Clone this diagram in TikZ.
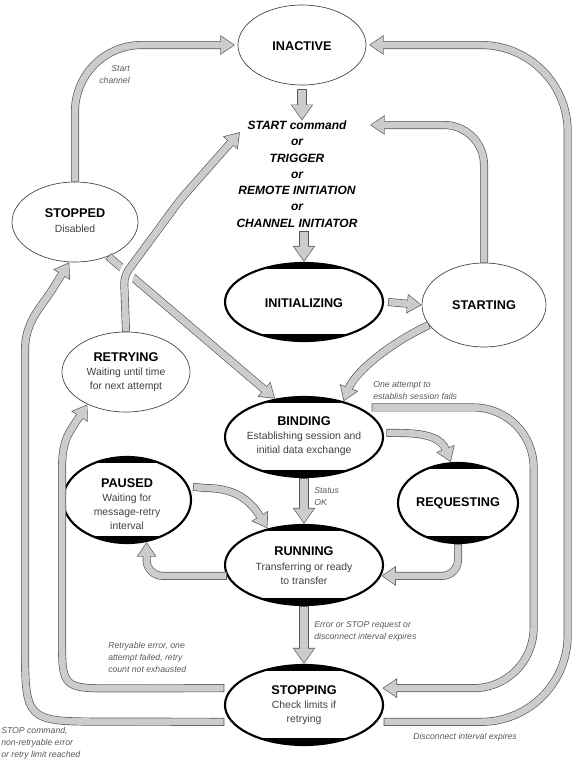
\documentclass[tikz,border=0pt]{standalone}
\usepackage{fontspec}
\setmainfont{Liberation Sans}
\usepackage{tikz}
\usetikzlibrary{arrows.meta, positioning, shapes.geometric, calc}

\begin{document}
\begin{tikzpicture}[
        x=0.75pt, y=-0.75pt,
        thinstate/.style={draw=black!75, line width=0.5pt, ellipse, inner sep=0pt},
        boldstate/.style={draw, ellipse, inner sep=0pt, line width=1.6pt,
            path picture={
                \fill (path picture bounding box.north west) rectangle ([yshift=-4.5pt]path picture bounding box.north east);
                \fill (path picture bounding box.south west) rectangle ([yshift=5pt]path picture bounding box.south east);}},
        title/.style={font=\fontsize{9.5}{11}\selectfont\bfseries, inner sep=0pt},
        desc/.style={font=\fontsize{7.8}{10.5}\selectfont, text=black!75, align=center, inner sep=0pt},
        note/.style={font=\fontsize{6.5}{9}\selectfont\itshape, text=black!65, inner sep=0pt},
        cmd/.style={font=\fontsize{9}{12.2}\selectfont\bfseries\itshape, align=center, inner sep=0pt},
        flow/.style={draw=black!65, line width=6pt, line join=round,
            -{Triangle[length=11pt, width=14pt]},
            postaction={draw=gray!40, line width=5pt, shorten <=0.5pt, shorten >=0.93pt,
                -{Triangle[length=9.57pt, width=12.2pt]}}},
        bigflow/.style={draw=black!65, line width=7pt, line join=round,
            -{Triangle[length=12pt, width=16pt]},
            postaction={draw=gray!40, line width=6pt, shorten <=0.5pt, shorten >=0.9pt,
                -{Triangle[length=10.6pt, width=14.1pt]}}},
        over/.style={preaction={draw=white, line width=11pt, shorten <=8pt, shorten >=30pt, -}}
    ]
    \useasboundingbox (0,0) rectangle (577,760);

    % ---- States ----
    \node[thinstate, minimum width=96pt, minimum height=60pt] (inactive) at (302,45) {};
    \node[title] (inactive-t) at (302,46) {INACTIVE};

    \node[thinstate, minimum width=94.5pt, minimum height=60pt] (stopped) at (75,222) {};
    \node[title] (stopped-t) at (75,213) {STOPPED};
    \node[desc] (stopped-d) at (75,229) {Disabled};

    \node[thinstate, minimum width=96pt, minimum height=60pt] (retrying) at (126,372) {};
    \node[title] (retrying-t) at (126,357) {RETRYING};
    \node[desc] (retrying-d) at (126,380) {Waiting until time\\for next attempt};

    \node[boldstate, minimum width=118.5pt, minimum height=58.5pt] (initializing) at (304,302) {};
    \node[title] (initializing-t) at (304,303) {INITIALIZING};

    \node[thinstate, minimum width=93pt, minimum height=63pt] (starting) at (484,305) {};
    \node[title] (starting-t) at (484,305) {STARTING};

    \node[boldstate, minimum width=118.5pt, minimum height=60pt] (binding) at (304,437) {};
    \node[title] (binding-t) at (304,421) {BINDING};
    \node[desc] (binding-d) at (304,444) {Establishing session and\\initial data exchange};

    \node[boldstate, minimum width=96pt, minimum height=64.5pt] (paused) at (127,500) {};
    \node[title] (paused-t) at (127,483) {PAUSED};
    \node[desc] (paused-d) at (127,512) {Waiting for\\message-retry\\interval};

    \node[boldstate, minimum width=90pt, minimum height=60pt] (requesting) at (458,503) {};
    \node[title] (requesting-t) at (458,503) {REQUESTING};

    \node[boldstate, minimum width=118.5pt, minimum height=60pt] (running) at (304,565) {};
    \node[title] (running-t) at (304,551) {RUNNING};
    \node[desc] (running-d) at (304,574) {Transferring or ready\\to transfer};

    \node[boldstate, minimum width=118.5pt, minimum height=60pt] (stopping) at (304,705) {};
    \node[title] (stopping-t) at (304,690) {STOPPING};
    \node[desc] (stopping-d) at (304,713) {Check limits if\\retrying};

    % ---- Start triggers ----
    \node[cmd] (trigger) at (297,174) {START command\\or\\TRIGGER\\or\\REMOTE INITIATION\\or\\CHANNEL INITIATOR};
    \coordinate (cmdR) at (370,125);
    \coordinate (cmdL) at (240,132);

    % ---- Transitions ----
    \draw[bigflow] ([yshift=-3pt]inactive.south) -- (inactive.south |- trigger.north);
    \draw[bigflow] ([yshift=-3pt]trigger.south -| initializing.north) -- (initializing.north);
    \draw[flow] ([xshift=3pt]initializing.east) -- (starting.west);
    \draw[flow, rounded corners=30pt] (starting.north) |- (cmdR);
    \draw[flow] (stopped.-46) -- (binding.127);
    \draw[flow, over, rounded corners=6pt] (retrying.north) -- (124,276) -- (180,200) -- (cmdL);
    \draw[flow] (starting.200) .. controls (390,343) and (355,372) .. (binding.42);
    \draw[flow, rounded corners=50pt] (stopped.north) |- ([xshift=-2pt]inactive.west);

    \draw[bigflow] (binding.south) -- (running.north);
    \draw[bigflow] (running.south) -- (stopping.north);
    \draw[flow] ([xshift=2pt]binding.3) -- (400,433) .. controls (430,433) and (442,440) .. (requesting.100);
    \draw[flow, rounded corners=12pt] (requesting.south) |- (running.-8);
    \draw[flow, rounded corners=12pt] (running.188) -| (paused.-65);
    \draw[flow] ([xshift=3pt]paused.12) -- (205,488) .. controls (235,488) and (250,500) .. (running.135);

    % outer loops
    \draw[flow, rounded corners=45pt] ([xshift=9pt]binding.28) -- ++(162,0) |- ([xshift=4pt]stopping.13);
    \draw[flow, rounded corners=65pt] ([xshift=5pt]stopping.-13) -- ++(184,0) |- ([xshift=2pt]inactive.east);
    \draw[flow] ([xshift=-5pt]stopping.193) -- (105,721.6) .. controls (25,721.6) .. (25,641.6)
        -- (25,350) .. controls (25,322) and (41,307) .. (52,290) -- (stopped.-98);
    \draw[flow] ([xshift=-5pt]stopping.167) -- (115,688.4) .. controls (62,688.4) .. (62,635.4)
        -- (62,470) .. controls (62,452) and (64,440) .. (72,428) -- (retrying.-140);

    % ---- Labels ----
    \node[note, align=right, anchor=east] (lstart) at (130,75) {Start\\channel};
    \node[note, align=left, anchor=west] (lfail) at (373,391) {One attempt to\\establish session fails};
    \node[note, align=left, anchor=west] (lok) at (314,497) {Status\\OK};
    \node[note, align=left, anchor=west] (lerr) at (314,631) {Error or STOP request or\\disconnect interval expires};
    \node[note, align=left, anchor=west] (lretry) at (108,657) {Retryable error, one\\attempt failed, retry\\count not exhausted};
    \node[note, align=left, anchor=north west] (lstop) at (1,727) {STOP command,\\non-retryable error\\or retry limit reached};
    \node[note, anchor=west] (ldisc) at (413,737) {Disconnect interval expires};

\end{tikzpicture}
\end{document}
